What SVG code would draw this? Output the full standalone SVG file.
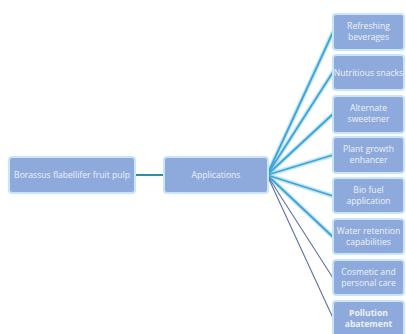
<svg xmlns="http://www.w3.org/2000/svg" width="406" height="334" viewBox="0 0 406 334">
  <defs>
    <style>
      .box { fill: #8eaadc; stroke: #c9e6f6; stroke-width: 2; }
      .lbl { font-family: "Open Sans", "Liberation Sans", sans-serif; font-size: 8.6px; fill: #eef2fa; text-anchor: middle; }
      .bold { font-weight: bold; }
      .glow { stroke: #a9ddf3; stroke-width: 4.5; stroke-linecap: round; fill: none; opacity: 0.7; }
      .link { stroke: #3fa3d6; stroke-width: 1.8; stroke-linecap: round; fill: none; }
      .thin { stroke: #5f6fa8; stroke-width: 1.1; fill: none; }
    </style>
  </defs>
  <rect width="406" height="334" fill="#ffffff"/>

  <g id="connectors">
    <line x1="135" y1="175" x2="164" y2="175" stroke="#2f8fa3" stroke-width="2"/>
    <g class="glows">
      <line class="glow" x1="267" y1="175" x2="333" y2="32"/>
      <line class="glow" x1="267" y1="175" x2="333" y2="72"/>
      <line class="glow" x1="267" y1="175" x2="333" y2="114"/>
      <line class="glow" x1="267" y1="175" x2="333" y2="155"/>
      <line class="glow" x1="267" y1="175" x2="333" y2="196"/>
      <line class="glow" x1="267" y1="175" x2="333" y2="237"/>
    </g>
    <line class="link" x1="267" y1="175" x2="333" y2="32"/>
    <line class="link" x1="267" y1="175" x2="333" y2="72"/>
    <line class="link" x1="267" y1="175" x2="333" y2="114"/>
    <line class="link" x1="267" y1="175" x2="333" y2="155"/>
    <line class="link" x1="267" y1="175" x2="333" y2="196"/>
    <line class="link" x1="267" y1="175" x2="333" y2="237"/>
    <line class="thin" x1="267" y1="175" x2="333" y2="278"/>
    <line class="thin" x1="267" y1="175" x2="333" y2="318"/>
  </g>

  <g id="source">
    <rect class="box" x="9" y="157" width="126" height="36" rx="3"/>
    <text class="lbl" x="72" y="178">Borassus flabellifer fruit pulp</text>
  </g>

  <g id="applications">
    <rect class="box" x="164" y="157" width="104" height="36" rx="3"/>
    <text class="lbl" x="216" y="178">Applications</text>
  </g>

  <g id="beverages">
    <rect class="box" x="333" y="14" width="71" height="36" rx="3"/>
    <text class="lbl" x="368.5" y="29">Refreshing</text>
    <text class="lbl" x="368.5" y="40">beverages</text>
  </g>

  <g id="snacks">
    <rect class="box" x="333" y="55" width="71" height="35" rx="3"/>
    <text class="lbl" x="368.5" y="75.5">Nutritious snacks</text>
  </g>

  <g id="sweetener">
    <rect class="box" x="333" y="96" width="71" height="37" rx="3"/>
    <text class="lbl" x="368.5" y="111">Alternate</text>
    <text class="lbl" x="368.5" y="122">sweetener</text>
  </g>

  <g id="growth">
    <rect class="box" x="333" y="137" width="71" height="36" rx="3"/>
    <text class="lbl" x="368.5" y="152">Plant growth</text>
    <text class="lbl" x="368.5" y="163">enhancer</text>
  </g>

  <g id="biofuel">
    <rect class="box" x="333" y="178" width="71" height="35" rx="3"/>
    <text class="lbl" x="368.5" y="193">Bio fuel</text>
    <text class="lbl" x="368.5" y="204">application</text>
  </g>

  <g id="water">
    <rect class="box" x="333" y="219" width="71" height="35" rx="3"/>
    <text class="lbl" x="368.5" y="234">Water retention</text>
    <text class="lbl" x="368.5" y="245">capabilities</text>
  </g>

  <g id="cosmetic">
    <rect class="box" x="333" y="260" width="71" height="35" rx="3"/>
    <text class="lbl" x="368.5" y="275">Cosmetic and</text>
    <text class="lbl" x="368.5" y="286">personal care</text>
  </g>

  <g id="pollution">
    <rect class="box" x="333" y="301" width="71" height="36" rx="3"/>
    <text class="lbl bold" x="368.5" y="316">Pollution</text>
    <text class="lbl bold" x="368.5" y="327">abatement</text>
  </g>
</svg>
